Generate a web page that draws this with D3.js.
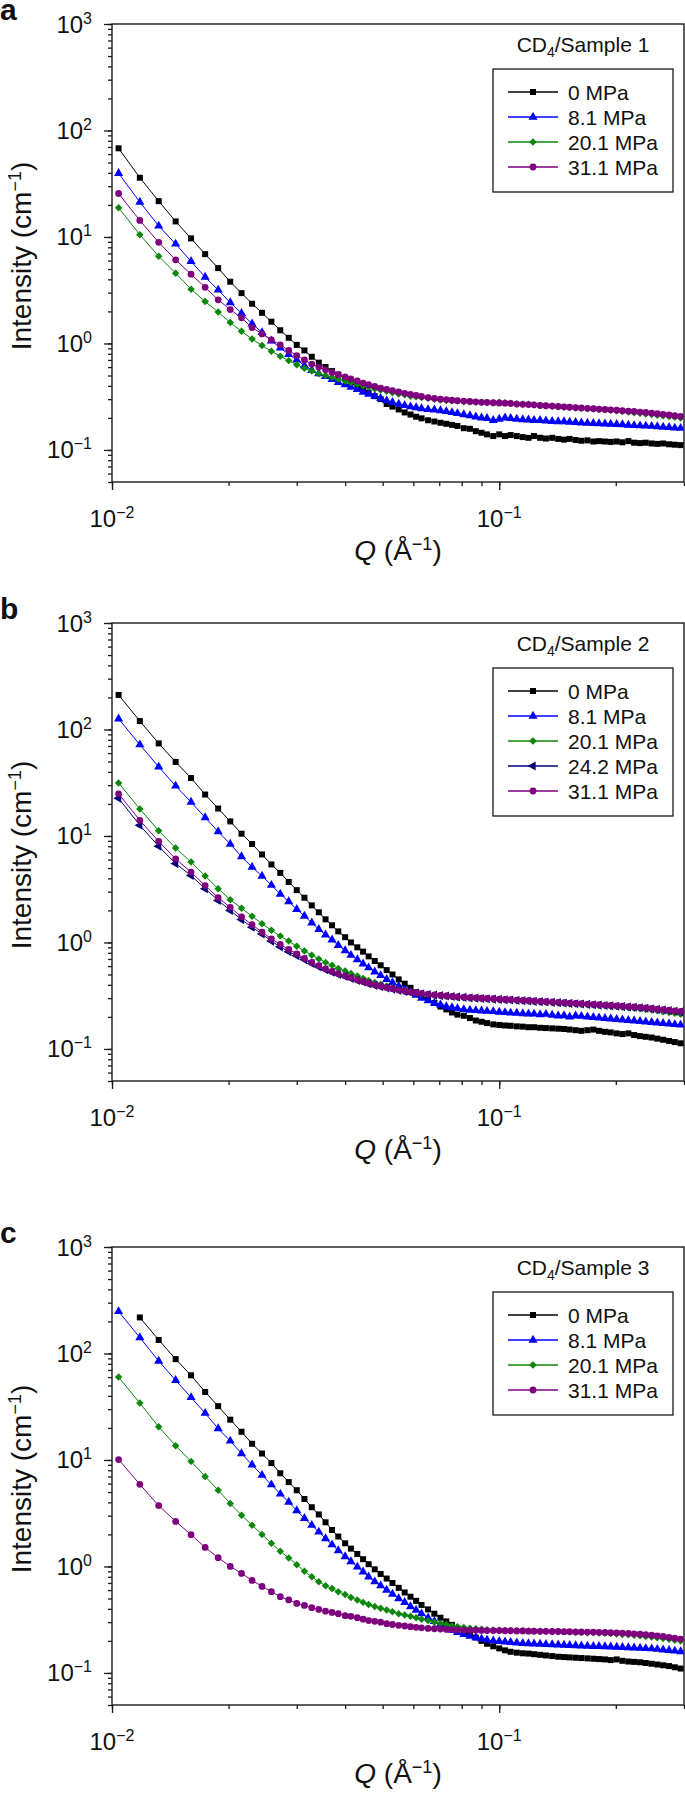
<!DOCTYPE html>
<html><head><meta charset="utf-8">
<script src="https://cdnjs.cloudflare.com/ajax/libs/d3/7.8.5/d3.min.js"></script>
<style>
body{margin:0;background:#fff}
svg{display:block}
text{font-family:"Liberation Sans",Arial,Helvetica,sans-serif;fill:#111}
</style>
</head><body>
<svg id="chart" width="685" height="1807"></svg>
<script>
// ---------- data ----------
const Q = [
 0.0104,0.0118,0.0132,0.0146,0.0160,0.0174,0.0188,0.0202,0.0216,0.0230,
 0.0244,0.0258,0.0272,0.0286,0.0300,0.0314,0.0328,0.0342,0.0356,0.0370,
 0.0384,0.0400,0.0414,0.0430,0.0445,0.0460,0.0477,0.0494,0.0512,0.0530,
 0.0550,0.0570,0.0590,0.0610,0.0630,0.0655,0.0680,0.0705,0.0730,0.0755,
 0.0780,0.0810,0.0840,0.0870,0.0900,0.0930,0.0965,0.1000,0.1035,0.1070,
 0.1110,0.1150,0.1190,0.1230,0.1275,0.1320,0.1370,0.1420,0.1470,0.1520,
 0.1575,0.1630,0.1690,0.1750,0.1810,0.1875,0.1940,0.2010,0.2080,0.2155,
 0.2230,0.2310,0.2390,0.2475,0.2560,0.2650,0.2745,0.2840,0.2940];

// Panel a : CD4/Sample 1
const a_0MPa = [68,36,21.7,14.0,9.7,6.9,5.1,3.8,2.97,2.36,
 1.94,1.60,1.33,1.13,0.97,0.86,0.75,0.66,0.60,0.55,
 0.51,0.47,0.43,0.40,0.37,0.345,0.32,0.30,0.27,0.255,
 0.24,0.225,0.215,0.205,0.198,0.19,0.185,0.18,0.176,0.172,
 0.168,0.16,0.158,0.15,0.145,0.14,0.135,0.14,0.135,0.138,
 0.135,0.132,0.13,0.135,0.13,0.128,0.13,0.127,0.125,0.127,
 0.124,0.122,0.123,0.12,0.121,0.12,0.119,0.12,0.118,0.121,
 0.117,0.116,0.117,0.115,0.114,0.115,0.113,0.112,0.111];
const a_8MPa = [39.6,21.3,12.7,8.6,5.9,4.2,3.18,2.42,1.92,1.53,
 1.27,1.06,0.91,0.79,0.70,0.62,0.56,0.52,0.49,0.46,
 0.43,0.41,0.39,0.37,0.35,0.335,0.32,0.305,0.29,0.28,
 0.27,0.262,0.255,0.25,0.245,0.24,0.238,0.234,0.23,0.225,
 0.22,0.215,0.21,0.205,0.2,0.198,0.19,0.195,0.2,0.198,
 0.195,0.193,0.192,0.19,0.19,0.188,0.186,0.185,0.185,0.183,
 0.182,0.18,0.179,0.178,0.177,0.176,0.175,0.174,0.173,0.171,
 0.17,0.169,0.168,0.167,0.166,0.164,0.163,0.161,0.16];
const a_20MPa = [18.8,10.5,6.6,4.57,3.23,2.48,1.97,1.57,1.30,1.10,
 0.957,0.845,0.76,0.69,0.63,0.585,0.55,0.52,0.50,0.48,
 0.46,0.445,0.43,0.415,0.40,0.39,0.375,0.365,0.355,0.345,
 0.335,0.33,0.32,0.315,0.31,0.305,0.30,0.295,0.292,0.29,
 0.288,0.285,0.283,0.28,0.28,0.278,0.276,0.28,0.278,0.275,
 0.272,0.27,0.268,0.265,0.262,0.26,0.258,0.255,0.252,0.25,
 0.248,0.246,0.244,0.242,0.24,0.238,0.236,0.233,0.23,0.227,
 0.224,0.221,0.218,0.215,0.212,0.209,0.206,0.203,0.2];
const a_31MPa = [25.6,14.3,8.9,6.1,4.47,3.37,2.57,2.08,1.74,1.41,
 1.23,1.08,0.97,0.86,0.77,0.70,0.64,0.60,0.565,0.535,
 0.51,0.485,0.465,0.445,0.425,0.41,0.395,0.38,0.37,0.36,
 0.35,0.34,0.333,0.325,0.318,0.31,0.305,0.30,0.297,0.293,
 0.29,0.288,0.285,0.283,0.28,0.28,0.278,0.276,0.275,0.273,
 0.27,0.268,0.267,0.265,0.262,0.26,0.258,0.256,0.254,0.252,
 0.25,0.248,0.246,0.244,0.242,0.24,0.238,0.236,0.234,0.232,
 0.23,0.227,0.225,0.222,0.219,0.216,0.213,0.21,0.207];

// Panel b : CD4/Sample 2
const b_0MPa = [211,120,74,49.6,35,24.5,18.1,13.7,10.5,8.4,
 6.7,5.4,4.5,3.7,3.1,2.63,2.23,1.92,1.65,1.45,
 1.27,1.12,1.0,0.9,0.82,0.74,0.67,0.61,0.55,0.50,
 0.45,0.41,0.375,0.34,0.315,0.29,0.27,0.25,0.235,0.22,
 0.21,0.205,0.195,0.185,0.18,0.175,0.17,0.168,0.166,0.165,
 0.163,0.162,0.16,0.16,0.158,0.157,0.156,0.155,0.154,0.152,
 0.15,0.148,0.15,0.152,0.148,0.145,0.143,0.14,0.138,0.14,
 0.135,0.132,0.13,0.128,0.125,0.122,0.119,0.116,0.113];
const b_8MPa = [126,72,44.6,29.5,20.8,14.9,11.0,8.4,6.4,5.1,
 4.2,3.45,2.85,2.42,2.05,1.77,1.53,1.33,1.18,1.06,
 0.94,0.84,0.76,0.69,0.63,0.58,0.53,0.49,0.45,0.42,
 0.39,0.36,0.34,0.32,0.30,0.285,0.27,0.26,0.25,0.245,
 0.24,0.235,0.232,0.23,0.228,0.226,0.225,0.222,0.22,0.218,
 0.217,0.215,0.214,0.213,0.21,0.212,0.208,0.205,0.206,0.2,
 0.205,0.203,0.2,0.198,0.196,0.194,0.192,0.19,0.188,0.186,
 0.184,0.182,0.18,0.178,0.176,0.174,0.172,0.17,0.168];
const b_20MPa = [31.5,17.9,11.2,7.7,5.7,4.2,3.2,2.52,2.1,1.76,
 1.5,1.3,1.15,1.03,0.92,0.83,0.76,0.70,0.65,0.61,
 0.57,0.54,0.51,0.485,0.46,0.44,0.42,0.405,0.39,0.375,
 0.36,0.35,0.34,0.335,0.33,0.325,0.32,0.315,0.312,0.31,
 0.305,0.302,0.3,0.298,0.296,0.294,0.292,0.29,0.288,0.286,
 0.284,0.282,0.28,0.278,0.276,0.274,0.272,0.27,0.268,0.266,
 0.264,0.262,0.26,0.258,0.256,0.254,0.252,0.25,0.247,0.244,
 0.241,0.238,0.235,0.232,0.228,0.224,0.22,0.216,0.212];
const b_24MPa = [22.6,12.6,8.0,5.5,4.25,3.2,2.48,2.0,1.64,1.39,
 1.2,1.03,0.91,0.82,0.75,0.69,0.635,0.59,0.555,0.525,
 0.5,0.48,0.46,0.44,0.425,0.41,0.395,0.385,0.375,0.365,
 0.355,0.347,0.34,0.335,0.33,0.325,0.32,0.317,0.314,0.311,
 0.308,0.305,0.302,0.3,0.298,0.296,0.294,0.292,0.29,0.288,
 0.286,0.284,0.282,0.28,0.278,0.276,0.274,0.272,0.27,0.268,
 0.266,0.264,0.262,0.26,0.258,0.256,0.254,0.252,0.25,0.248,
 0.246,0.244,0.241,0.238,0.235,0.232,0.229,0.226,0.223];
const b_31MPa = [24.9,14.0,8.9,6.1,4.57,3.42,2.63,2.14,1.74,1.47,
 1.25,1.08,0.96,0.86,0.78,0.71,0.65,0.605,0.565,0.535,
 0.51,0.485,0.465,0.445,0.43,0.415,0.4,0.39,0.378,0.368,
 0.358,0.35,0.343,0.337,0.332,0.327,0.322,0.318,0.315,0.312,
 0.309,0.306,0.304,0.302,0.3,0.298,0.296,0.294,0.292,0.29,
 0.288,0.286,0.284,0.282,0.28,0.278,0.276,0.274,0.272,0.27,
 0.268,0.266,0.264,0.262,0.26,0.258,0.256,0.254,0.252,0.25,
 0.248,0.246,0.243,0.24,0.237,0.234,0.231,0.228,0.225];

// Panel c : CD4/Sample 3
const c_0MPa = [null,218,134,88.5,62.4,43.5,32,23.9,18.4,14.2,
 11.5,9.35,7.5,6.2,5.2,4.3,3.6,3.08,2.6,2.2,
 1.91,1.65,1.47,1.31,1.17,1.05,0.94,0.85,0.77,0.70,
 0.63,0.57,0.52,0.475,0.435,0.395,0.36,0.33,0.305,0.283,
 0.263,0.245,0.23,0.215,0.2,0.188,0.178,0.17,0.163,0.158,
 0.155,0.153,0.152,0.15,0.148,0.146,0.144,0.142,0.141,0.14,
 0.139,0.138,0.137,0.136,0.135,0.134,0.132,0.134,0.13,0.128,
 0.127,0.126,0.124,0.122,0.12,0.118,0.116,0.113,0.11];
const c_8MPa = [248,141,85,56,38.7,27.5,19.7,15.1,11.5,9.0,
 7.2,5.86,4.8,4.02,3.35,2.83,2.44,2.11,1.83,1.6,
 1.41,1.24,1.11,0.99,0.89,0.8,0.72,0.66,0.6,0.55,
 0.5,0.46,0.42,0.39,0.36,0.33,0.305,0.285,0.268,0.253,
 0.24,0.23,0.222,0.215,0.209,0.204,0.2,0.198,0.196,0.194,
 0.192,0.19,0.189,0.188,0.187,0.186,0.185,0.184,0.183,0.182,
 0.181,0.18,0.179,0.178,0.178,0.177,0.176,0.175,0.174,0.173,
 0.172,0.171,0.17,0.169,0.167,0.165,0.163,0.161,0.159];
const c_20MPa = [60,34.2,20.5,13.6,9.7,7.0,5.2,3.9,3.03,2.44,
 2.0,1.65,1.39,1.2,1.04,0.9,0.8,0.72,0.66,0.62,
 0.58,0.545,0.51,0.485,0.46,0.44,0.42,0.405,0.39,0.375,
 0.36,0.35,0.34,0.33,0.32,0.31,0.3,0.292,0.285,0.278,
 0.272,0.267,0.263,0.26,0.257,0.255,0.253,0.252,0.251,0.25,
 0.25,0.249,0.248,0.247,0.246,0.246,0.245,0.244,0.243,0.242,
 0.241,0.24,0.239,0.238,0.237,0.236,0.234,0.232,0.23,0.228,
 0.226,0.223,0.22,0.217,0.214,0.211,0.207,0.203,0.2];
const c_31MPa = [10.1,5.9,3.73,2.65,1.99,1.51,1.21,1.0,0.86,0.74,
 0.65,0.58,0.52,0.485,0.45,0.43,0.41,0.395,0.38,0.37,
 0.36,0.345,0.34,0.33,0.32,0.31,0.305,0.3,0.29,0.285,
 0.28,0.276,0.272,0.268,0.265,0.262,0.26,0.258,0.256,0.255,
 0.254,0.253,0.252,0.252,0.251,0.25,0.25,0.25,0.249,0.249,
 0.248,0.248,0.247,0.247,0.246,0.246,0.245,0.245,0.244,0.244,
 0.243,0.243,0.242,0.242,0.241,0.24,0.239,0.238,0.237,0.235,
 0.233,0.231,0.229,0.226,0.223,0.22,0.216,0.212,0.208];

const xMajor = [0.01, 0.1];
const xMajorExp = ["\u22122", "\u22121"];
const yMajor = [0.1, 1, 10, 100, 1000];
const yMajorExp = ["\u22121", "0", "1", "2", "3"];
const samples = ["Sample 1", "Sample 2", "Sample 3"];
const letters = ["a", "b", "c"];

// ---------- styles ----------
const style = {
  "0 MPa":    {color:"#000000", shape:"square"},
  "8.1 MPa":  {color:"#0000ff", shape:"triangle"},
  "20.1 MPa": {color:"#0b870b", shape:"diamond"},
  "24.2 MPa": {color:"#00007a", shape:"left"},
  "31.1 MPa": {color:"#7f007f", shape:"circle"}
};
const panels = [
  {top:24,   series:[["0 MPa",a_0MPa],["8.1 MPa",a_8MPa],["20.1 MPa",a_20MPa],["31.1 MPa",a_31MPa]]},
  {top:623,  series:[["0 MPa",b_0MPa],["8.1 MPa",b_8MPa],["20.1 MPa",b_20MPa],["24.2 MPa",b_24MPa],["31.1 MPa",b_31MPa]]},
  {top:1247, series:[["0 MPa",c_0MPa],["8.1 MPa",c_8MPa],["20.1 MPa",c_20MPa],["31.1 MPa",c_31MPa]]}
];

const L = 112, R = 684, H = 458;
const svg = d3.select("#chart");

function marker(sel, shape, color){
  const types = {square:[d3.symbolSquare,36,0], triangle:[d3.symbolTriangle,36,0], diamond:[d3.symbolSquare,28,45], left:[d3.symbolTriangle,36,-90], circle:[d3.symbolCircle,36,0]};
  const [t, s] = types[shape];
  sel.attr("d", d3.symbol().type(t).size(s)()).attr("fill", color).attr("stroke","none");
}
function rot(shape){ return shape === "left" ? " rotate(-90)" : shape === "diamond" ? " rotate(45)" : ""; }

panels.forEach((p, pi) => {
  const top = p.top, bottom = top + H;
  const x = d3.scaleLog().domain([0.01, 0.3]).range([L, R]);
  const y = d3.scaleLog().domain([0.05, 1000]).range([bottom, top]);
  const g = svg.append("g");

  // panel letter
  g.append("text").attr("x", 0).attr("y", top - 4).attr("font-size", 30).attr("font-weight", "bold").text(letters[pi]);

  // clip
  const cid = "clip" + pi;
  g.append("clipPath").attr("id", cid).append("rect").attr("x", L).attr("y", top).attr("width", R - L).attr("height", H);

  // axes ticks
  const axW = 1.3, axC = "#1a1a1a";
  const ax1 = g.append("g").attr("transform", `translate(0,${bottom})`).call(d3.axisBottom(x).tickValues(x.ticks()).tickSize(4).tickSizeOuter(0).tickFormat(""));
  const ax2 = g.append("g").attr("transform", `translate(0,${bottom})`).call(d3.axisBottom(x).tickValues(xMajor).tickSize(8).tickSizeOuter(0).tickFormat(""));
  const ay1 = g.append("g").attr("transform", `translate(${L},0)`).call(d3.axisLeft(y).tickValues(y.ticks()).tickSize(4).tickSizeOuter(0).tickFormat(""));
  const ay2 = g.append("g").attr("transform", `translate(${L},0)`).call(d3.axisLeft(y).tickValues(yMajor).tickSize(8).tickSizeOuter(0).tickFormat(""));
  [ax1, ax2, ay1, ay2].forEach(a => { a.select(".domain").remove(); a.selectAll("line").attr("stroke", axC).attr("stroke-width", axW); });

  // frame
  g.append("rect").attr("x", L).attr("y", top).attr("width", R - L).attr("height", H)
    .attr("fill", "none").attr("stroke", axC).attr("stroke-width", 1.4);

  // tick labels
  xMajor.forEach((v, i) => {
    const t = g.append("text").attr("x", x(v)).attr("y", bottom + 45).attr("text-anchor", "middle").attr("font-size", 24);
    t.append("tspan").text("10");
    t.append("tspan").attr("dy", -9).attr("font-size", 16).text(xMajorExp[i]);
  });
  yMajor.forEach((v, i) => {
    const t = g.append("text").attr("x", 92).attr("y", y(v) + 8.5).attr("text-anchor", "end").attr("font-size", 24);
    t.append("tspan").text("10");
    t.append("tspan").attr("dy", -9).attr("font-size", 16).text(yMajorExp[i]);
  });

  // axis titles
  const yt = g.append("text").attr("transform", `translate(31,${(top + bottom) / 2 + 3}) rotate(-90)`).attr("text-anchor", "middle").attr("font-size", 28);
  yt.append("tspan").text("Intensity (cm");
  yt.append("tspan").attr("dy", -10).attr("font-size", 18).text("\u22121");
  yt.append("tspan").attr("dy", 10).text(")");
  const xt = g.append("text").attr("x", (L + R) / 2).attr("y", bottom + 78).attr("text-anchor", "middle").attr("font-size", 28);
  xt.append("tspan").attr("font-style", "italic").text("Q");
  xt.append("tspan").text(" (\u00C5");
  xt.append("tspan").attr("dy", -10).attr("font-size", 18).text("\u22121");
  xt.append("tspan").attr("dy", 10).text(")");

  // data
  const dg = g.append("g").attr("clip-path", `url(#${cid})`);
  p.series.forEach(([name, vals]) => {
    const st = style[name];
    const pts = Q.map((q, i) => [q, vals[i]]).filter(d => d[1] != null);
    dg.append("path").datum(pts)
      .attr("d", d3.line().x(d => x(d[0])).y(d => y(d[1])))
      .attr("fill", "none").attr("stroke", st.color).attr("stroke-width", 1);
    dg.selectAll(null).data(pts).enter().append("path")
      .attr("transform", d => `translate(${x(d[0])},${y(d[1])})` + rot(st.shape))
      .call(marker, st.shape, st.color);
  });

  // legend
  const lt = g.append("text").attr("x", 583).attr("y", top + 28).attr("text-anchor", "middle").attr("font-size", 21);
  lt.append("tspan").text("CD");
  lt.append("tspan").attr("dy", 5).attr("font-size", 14).text("4");
  lt.append("tspan").attr("dy", -5).text("/" + samples[pi]);
  const n = p.series.length;
  const bTop = top + 45;
  g.append("rect").attr("x", 493).attr("y", bTop).attr("width", 180).attr("height", 23 + 25 * (n - 1) + 25)
    .attr("fill", "#fff").attr("stroke", axC).attr("stroke-width", 1.3);
  p.series.forEach(([name], i) => {
    const st = style[name];
    const ry = bTop + 23 + 25 * i;
    g.append("line").attr("x1", 508).attr("x2", 558).attr("y1", ry).attr("y2", ry).attr("stroke", st.color).attr("stroke-width", 1.4);
    g.append("path").attr("transform", `translate(533,${ry})` + rot(st.shape)).call(marker, st.shape, st.color);
    g.append("text").attr("x", 568).attr("y", ry + 7.5).attr("font-size", 21).text(name);
  });
});
</script>
</body></html>
